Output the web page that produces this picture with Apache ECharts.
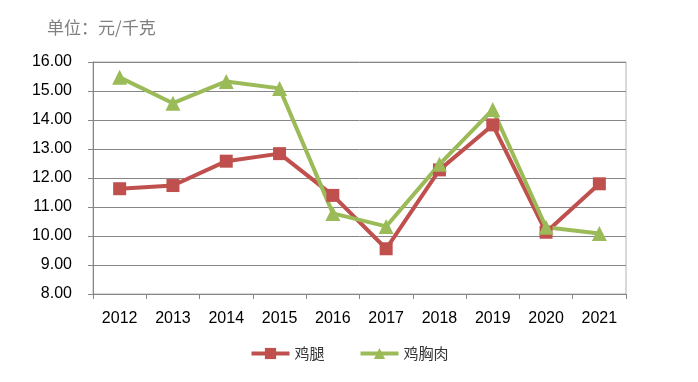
<!DOCTYPE html>
<html><head><meta charset="utf-8">
<script src="https://cdn.jsdelivr.net/npm/echarts@6/dist/echarts.min.js"></script>
<style>html,body{margin:0;padding:0;background:#fff}#c{width:698px;height:382px}</style>
</head><body><div id="c"></div>
<script>
const categories = ['2012','2013','2014','2015','2016','2017','2018','2019','2020','2021'];
const legSeries = [11.63, 11.74, 12.58, 12.84, 11.40, 9.56, 12.28, 13.83, 10.13, 11.80];
const breastSeries = [15.47, 14.58, 15.33, 15.09, 10.78, 10.33, 12.47, 14.36, 10.30, 10.09];
const seriesNames = ['鸡腿', '鸡胸肉'];
const unitText = '单位：元/千克';

const chart = echarts.init(document.getElementById('c'));
const fontNum = '"Liberation Sans", "Noto Sans CJK SC", sans-serif';
chart.setOption({
  animation: false,
  title: {
    text: unitText, left: 42, top: 14,
    textStyle: {fontSize: 17, fontWeight: 'normal', color: '#7f7f7f', fontFamily: '"Noto Sans CJK SC", sans-serif'}
  },
  grid: {left: 93, right: 72, top: 62, bottom: 88, show: true, borderColor: '#b3b3b3', borderWidth: 1},
  legend: {
    bottom: 16, left: 'center', itemWidth: 38, itemHeight: 14, itemGap: 34,
    lineStyle: {width: 4},
    textStyle: {fontSize: 15, color: '#333', fontFamily: '"Noto Sans CJK SC", sans-serif'},
    data: [seriesNames[0], seriesNames[1]]
  },
  xAxis: {
    type: 'category', data: categories, boundaryGap: true,
    axisLine: {lineStyle: {color: '#868686', width: 1}},
    axisTick: {show: true, length: 5, inside: false, lineStyle: {color: '#868686'}},
    axisLabel: {fontSize: 16, color: '#000', margin: 17, fontFamily: fontNum}
  },
  yAxis: {
    type: 'value', min: 8, max: 16, interval: 1,
    axisLine: {show: true, lineStyle: {color: '#868686'}},
    axisTick: {show: true, length: 5, lineStyle: {color: '#868686'}},
    axisLabel: {fontSize: 16, color: '#000', margin: 21, fontFamily: fontNum, formatter: v => v.toFixed(2)},
    splitLine: {show: true, lineStyle: {color: '#868686', width: 1}}
  },
  series: [
    {name: seriesNames[0], type: 'line', data: legSeries, symbol: 'rect', symbolSize: 13,
     lineStyle: {color: '#C0504D', width: 4}, itemStyle: {color: '#C0504D'}},
    {name: seriesNames[1], type: 'line', data: breastSeries, symbol: 'triangle', symbolSize: 15,
     lineStyle: {color: '#9BBB59', width: 4}, itemStyle: {color: '#9BBB59'}}
  ]
});
</script></body></html>
